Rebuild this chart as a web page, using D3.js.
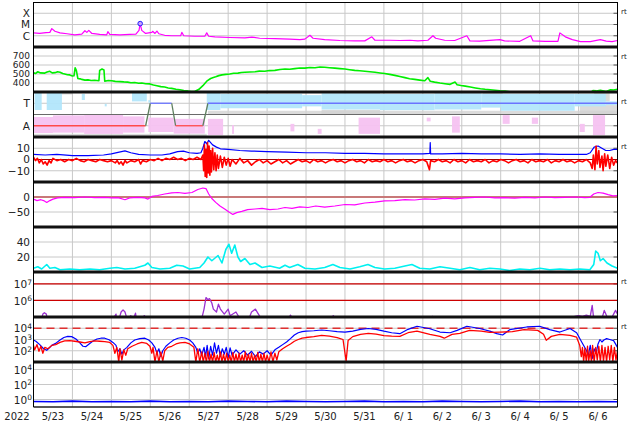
<!DOCTYPE html>
<html><head><meta charset="utf-8">
<script src="https://cdn.jsdelivr.net/npm/d3@7"></script>
<style>html,body{margin:0;padding:0;background:#fff}svg{display:block}</style>
</head><body>
<svg id="c" width="634" height="424"></svg>
<script>
// ---------------- DATA ----------------
const dayLabels = ["5/23","5/24","5/25","5/26","5/27","5/28","5/29","5/30","5/31","6/ 1","6/ 2","6/ 3","6/ 4","6/ 5","6/ 6"];
const yearLabel = "2022";

// Panel 1: X-ray flux [day, W/m2]
const xray = [[0,1.8e-6],[0.16,1.6e-6],[0.32,1.9e-6],[0.42,2.0e-6],[0.47,4.3e-6],[0.55,2.5e-6],[0.68,1.8e-6],[0.86,1.5e-6],[1.06,1.2e-6],[1.24,1.4e-6],[1.32,2.8e-6],[1.37,2.0e-6],[1.42,3.0e-6],[1.5,1.6e-6],[1.7,1.3e-6],[1.88,1.2e-6],[1.91,2.3e-6],[1.96,1.3e-6],[2.22,1.2e-6],[2.47,1.3e-6],[2.63,1.4e-6],[2.71,3e-6],[2.74,1.2e-5],[2.78,3e-6],[2.88,1.6e-6],[3.04,2.0e-6],[3.06,2.5e-6],[3.12,1.6e-6],[3.17,2.6e-6],[3.22,1.5e-6],[3.37,1.1e-6],[3.55,1.0e-6],[3.78,1.0e-6],[3.81,2.0e-6],[3.86,1.0e-6],[4.14,9e-7],[4.4,9e-7],[4.45,1.8e-6],[4.5,9e-7],[4.66,8e-7],[5.04,7e-7],[5.43,6.5e-7],[5.61,7.5e-7],[5.81,6e-7],[6.2,5.5e-7],[6.58,5e-7],[6.84,4.5e-7],[6.97,5e-7],[7.1,1.1e-6],[7.18,6e-7],[7.48,4.5e-7],[7.87,3.8e-7],[8.25,3.5e-7],[8.51,3.5e-7],[8.69,8e-7],[8.77,4e-7],[9.15,4e-7],[9.41,3.8e-7],[9.67,4e-7],[9.87,3.5e-7],[10.13,4e-7],[10.26,1e-6],[10.33,6e-7],[10.56,4e-7],[10.82,3.8e-7],[11.13,1e-6],[11.21,3.5e-7],[11.46,3.3e-7],[11.98,4.5e-7],[12.1,3.5e-7],[12.49,3.2e-7],[12.77,1e-6],[12.83,3.5e-7],[13.14,3.2e-7],[13.47,3.2e-7],[13.52,1.8e-6],[13.66,8e-7],[13.84,4.5e-7],[14.05,3e-7],[14.3,3e-7],[14.56,4.5e-7],[14.71,3.3e-7],[14.86,3e-7],[15,3.8e-7]];
const flareMarks = [[2.74,1.2e-5]];
const xrayClassTicks = [[1e-4,"X"],[1e-5,"M"],[1e-6,"C"]];

// Panel 2: solar wind speed [day, km/s]
const speed = [[0,515],[0.05,505],[0.11,525],[0.18,512],[0.29,510],[0.35,522],[0.42,530],[0.48,512],[0.55,515],[0.62,525],[0.68,520],[0.75,505],[0.8,500],[0.87,492],[0.93,490],[1.0,478],[1.04,480],[1.07,570],[1.1,540],[1.14,450],[1.2,446],[1.24,440],[1.32,432],[1.4,435],[1.48,428],[1.57,430],[1.68,425],[1.7,540],[1.76,555],[1.81,545],[1.83,420],[1.92,428],[2.01,425],[2.1,418],[2.22,415],[2.32,412],[2.42,410],[2.5,402],[2.6,405],[2.7,398],[2.78,400],[2.88,392],[2.99,390],[3.08,378],[3.17,370],[3.27,360],[3.37,355],[3.46,345],[3.55,340],[3.66,330],[3.76,325],[3.86,316],[3.96,312],[4.05,306],[4.14,305],[4.25,330],[4.35,370],[4.45,420],[4.55,450],[4.62,462],[4.68,470],[4.76,482],[4.84,490],[4.94,496],[5.04,500],[5.14,508],[5.25,510],[5.34,516],[5.43,520],[5.56,522],[5.69,525],[5.8,532],[5.94,530],[6.06,538],[6.2,540],[6.33,550],[6.46,555],[6.58,552],[6.71,560],[6.84,566],[6.97,565],[7.1,572],[7.23,570],[7.36,578],[7.48,575],[7.6,570],[7.74,565],[7.87,560],[8.0,555],[8.12,548],[8.25,540],[8.38,536],[8.51,530],[8.64,525],[8.77,520],[8.9,512],[9.02,505],[9.15,496],[9.28,485],[9.41,472],[9.54,460],[9.66,448],[9.79,440],[9.92,432],[10.05,425],[10.13,460],[10.19,420],[10.3,410],[10.44,400],[10.57,392],[10.7,385],[10.83,410],[10.88,380],[10.98,372],[11.09,365],[11.22,355],[11.35,345],[11.48,336],[11.6,330],[11.73,325],[11.86,320],[11.98,314],[12.11,310],[12.24,303],[12.37,295],[13,290],[14.29,290],[14.37,315],[14.45,312],[14.56,320],[14.71,305],[14.82,325],[14.9,322],[15,330]];
const speedTicks = [400,500,600,700];

// Panel 3: IMF sector (phi, deg) : T = 315, A = 135 ; bands [day0, day1, phiLo, phiHi]
const sectorTicks = [[315,"T"],[135,"A"]];
const phiGrey = [[0,4.45,50,70],[0.4,1.0,385,400],[4.48,15,222,255],[7.4,8.9,225,262],[11.54,12.05,365,397],[14.03,15,228,300],[14.4,14.8,330,397]];
const phiPink = [[0,0.5,77,205],[0.5,1.3,80,218],[1.3,2.3,70,228],[2.3,2.85,80,210],[2.95,3.6,85,200],[3.6,4.4,72,190],[4.48,4.87,60,190],[5.1,5.15,70,140],[6.6,6.7,90,150],[7.3,7.4,70,110],[8.35,8.9,70,200],[10.1,10.2,170,200],[10.75,10.95,80,210],[12.05,12.23,150,220],[12.8,12.96,150,200],[14.03,14.16,85,150],[14.37,14.68,60,220]];
const phiBlue = [[0.03,0.21,261,397],[0.34,0.73,261,397],[1.24,1.32,341,389],[1.83,1.88,290,310],[2.53,2.91,330,397],[2.95,3.0,320,340],[4.45,4.8,261,397],[4.8,6.9,275,390],[6.9,7.4,290,380],[7.4,8.9,265,395],[8.9,10.3,260,390],[10.3,11.5,265,395],[11.5,12.0,280,390],[12.0,13.9,255,390],[13.9,14.7,290,390],[14.7,15,300,330]];
const sectorDays = [0,2.88,3.0,3.55,3.65,4.35,4.48,15];
const sectorPhi  = [135,135,315,315,135,135,315,315];

// Panel 4: IMF Bt and Bz [day, nT]
const bt = [[0,4.5],[0.3,4],[0.6,4.5],[1.0,3.5],[1.4,3.5],[1.8,4],[2.0,5],[2.2,6.5],[2.35,7.7],[2.5,6],[2.7,4.5],[3.0,4],[3.3,4],[3.5,5],[3.7,7],[3.85,7.5],[4.0,6],[4.2,5.5],[4.3,6],[4.35,10],[4.4,16],[4.45,14],[4.5,17],[4.55,15],[4.6,13],[4.7,11],[4.8,9.5],[5.0,9],[5.3,8],[5.6,7.5],[6.0,7],[6.5,6.5],[7.0,6],[7.5,6],[8.0,5.5],[8.5,5.5],[9.0,5],[9.5,5],[10.0,5],[10.18,5.5],[10.19,15],[10.2,5],[10.5,5],[11,5.5],[11.5,5],[12,5],[12.5,4.5],[13,5],[13.5,4.5],[14,4.5],[14.2,4.5],[14.3,6],[14.4,11],[14.5,12],[14.6,10],[14.7,8],[14.8,8],[14.9,9],[15,9]];
const bz = [[0,2],[0.05,-1],[0.1,1],[0.15,-3],[0.2,0],[0.25,-4],[0.3,-2],[0.35,-5],[0.4,-1],[0.45,-3],[0.5,1],[0.6,-1],[0.7,0],[0.8,-2],[0.9,0],[1.0,-1],[1.1,1],[1.2,-1],[1.3,-2],[1.4,0],[1.5,-1],[1.6,-2],[1.7,0],[1.8,-1],[1.9,-2],[2.0,-1],[2.1,-3],[2.15,-1],[2.2,-4],[2.25,-2],[2.3,-5],[2.35,-1],[2.4,-3],[2.5,-1],[2.6,-2],[2.7,0],[2.75,-4],[2.8,-1],[2.9,-2],[3.0,0],[3.1,-1],[3.2,1],[3.3,-1],[3.4,1],[3.5,0],[3.6,2],[3.7,0],[3.8,1],[3.9,-1],[4.0,1],[4.1,0],[4.2,2],[4.3,0],[4.35,4],[4.37,-10],[4.39,13],[4.41,-15],[4.43,9],[4.45,-16],[4.47,15],[4.49,-12],[4.51,12],[4.53,-14],[4.55,8],[4.57,-11],[4.6,10],[4.63,-9],[4.66,6],[4.69,-10],[4.72,4],[4.75,-8],[4.8,3],[4.85,-7],[4.9,2],[4.95,-5],[5.0,1],[5.05,-6],[5.1,0],[5.2,-4],[5.3,1],[5.4,-3],[5.5,-1],[5.6,-5],[5.7,-2],[5.8,0],[5.9,-3],[6.0,-1],[6.1,-4],[6.2,-2],[6.3,0],[6.4,-3],[6.5,-1],[6.6,-4],[6.7,-2],[6.8,0],[6.9,-2],[7.0,-1],[7.1,-3],[7.2,0],[7.3,-2],[7.4,-1],[7.5,-3],[7.6,-1],[7.7,0],[7.8,-2],[7.9,-1],[8.0,-3],[8.1,-1],[8.2,0],[8.3,-2],[8.4,-1],[8.5,-3],[8.6,0],[8.7,-2],[8.8,-1],[8.9,-2],[9.0,0],[9.1,-2],[9.2,-1],[9.3,-3],[9.4,-1],[9.5,0],[9.6,-2],[9.7,-1],[9.8,-3],[9.9,-1],[10.0,0],[10.1,-2],[10.17,-9],[10.2,-1],[10.3,-2],[10.4,0],[10.5,-2],[10.6,-1],[10.7,-3],[10.8,0],[10.9,-2],[11.0,-1],[11.1,-3],[11.2,0],[11.3,-2],[11.4,-1],[11.5,-2],[11.6,0],[11.7,-3],[11.8,-1],[11.9,-2],[12.0,0],[12.1,-1],[12.2,-3],[12.3,-1],[12.4,0],[12.5,-2],[12.6,-1],[12.7,-3],[12.8,0],[12.9,-2],[13.0,-1],[13.1,-2],[13.2,0],[13.3,-3],[13.4,-1],[13.5,-2],[13.6,0],[13.7,-2],[13.8,-1],[13.9,-3],[14.0,-1],[14.1,-2],[14.2,0],[14.3,-3],[14.35,-8],[14.38,4],[14.42,-9],[14.45,12],[14.48,-4],[14.52,8],[14.55,-7],[14.6,3],[14.63,-10],[14.67,5],[14.7,-6],[14.75,4],[14.8,-8],[14.85,2],[14.9,-5],[14.95,-1],[15.0,-3]];
const imfTicks = [10,0,-10];

// Panel 5: Dst [day, nT]
const dst = [[0,-7],[0.09,-12],[0.19,-9],[0.26,-12],[0.34,-18],[0.42,-12],[0.5,-7],[0.62,-3],[0.8,-1],[1.06,-2],[1.32,0],[1.57,-2],[1.83,-1],[2.01,-3],[2.17,-2],[2.35,-9],[2.47,-3],[2.68,-1],[2.86,-3],[2.94,-7],[3.04,2],[3.19,5],[3.37,10],[3.55,14],[3.71,15],[3.89,12],[4.07,15],[4.22,25],[4.35,30],[4.43,28],[4.5,10],[4.58,-5],[4.68,-18],[4.79,-30],[4.91,-40],[5.02,-50],[5.12,-58],[5.22,-52],[5.35,-48],[5.5,-42],[5.69,-40],[5.87,-38],[6.07,-42],[6.28,-40],[6.46,-35],[6.64,-38],[6.84,-33],[7.05,-35],[7.25,-30],[7.48,-34],[7.74,-30],[8.0,-25],[8.25,-26],[8.51,-20],[8.77,-17],[9.02,-13],[9.28,-12],[9.54,-9],[9.79,-10],[10.05,-6],[10.31,-8],[10.56,-4],[10.82,-6],[11.08,-3],[11.34,-1],[11.59,0],[11.85,-3],[12.11,-2],[12.36,-4],[12.62,-1],[12.88,-3],[13.13,0],[13.39,-2],[13.65,-1],[13.91,0],[14.16,-2],[14.29,-1],[14.39,10],[14.5,15],[14.63,13],[14.76,8],[14.88,4],[15,5]];
const dstTicks = [0,-50];

// Panel 6: activity index [day, value]
const act = [[0,5],[0.11,7],[0.21,4],[0.34,10],[0.42,5],[0.55,6],[0.68,3],[0.93,4],[1.19,3],[1.45,4],[1.7,3],[1.96,5],[2.14,6],[2.35,4],[2.6,5],[2.86,9],[2.94,12],[3.04,6],[3.25,4],[3.5,5],[3.68,9],[3.84,8],[4.01,4],[4.27,6],[4.38,12],[4.48,20],[4.58,15],[4.74,22],[4.84,12],[4.94,30],[5.02,37],[5.09,25],[5.17,36],[5.25,20],[5.32,14],[5.43,18],[5.56,10],[5.69,12],[5.87,6],[6.07,8],[6.32,5],[6.46,9],[6.58,6],[6.79,10],[6.97,5],[7.23,4],[7.48,6],[7.69,10],[7.87,6],[8.13,4],[8.38,7],[8.59,10],[8.77,6],[9.02,4],[9.28,5],[9.54,8],[9.72,10],[9.92,5],[10.18,4],[10.44,7],[10.7,5],[10.95,3],[11.21,6],[11.46,3],[11.72,5],[11.98,4],[12.23,2],[12.49,4],[12.75,3],[13.01,5],[13.26,3],[13.52,4],[13.78,3],[14.03,4],[14.29,3],[14.39,10],[14.44,28],[14.5,25],[14.56,15],[14.63,18],[14.73,12],[14.86,8],[15,5]];
const actTicks = [20,40];

// Panel 7: high energy flux [day, value] with warning levels
const flux7 = [[0,5e4],[0.2,6e4],[0.24,1.5e5],[0.28,1.8e5],[0.33,1.5e5],[0.36,6e4],[2.0,5e4],[2.12,1.5e5],[2.14,5e4],[2.2,8e4],[2.25,2e5],[2.3,2.7e5],[2.35,2e5],[2.4,8e4],[2.5,1.2e5],[2.55,6e4],[2.62,1.7e5],[2.65,6e4],[2.85,1.2e5],[2.88,5e4],[4.3,5e4],[4.38,3e5],[4.43,1.5e6],[4.48,1.1e6],[4.52,1.3e6],[4.58,7e5],[4.62,3e5],[4.7,2e5],[4.75,6e5],[4.8,3e5],[4.9,1.5e5],[5.0,3e5],[5.05,1.2e5],[5.2,2e5],[5.3,8e4],[5.5,5e4],[5.6,2e5],[5.7,3e5],[5.8,1.2e5],[5.9,5e4],[6.5,5e4],[6.6,1.3e5],[6.7,5e4],[7.6,5e4],[7.7,1.2e5],[7.8,5e4],[10.2,5e4],[10.25,1.1e5],[10.3,5e4],[13.8,5e4],[13.9,1.1e5],[14.0,1.2e5],[14.1,1.1e5],[14.2,1.3e5],[14.3,1.1e5],[14.35,5e5],[14.38,1.2e5],[14.5,5e4],[14.6,8e4],[14.66,2.5e5],[14.72,1.2e5],[14.8,5e4],[14.9,1.5e5],[14.95,2.5e5],[15,1.5e5]];
const flux7Levels = [1e7,1e6];
const flux7Ticks = [7,6];

// Panel 8: electron flux, two channels [day, value]
const elecBlue = [[0,900],[0.06,700],[0.16,350],[0.26,150],[0.34,110],[0.42,200],[0.47,300],[0.57,450],[0.68,900],[0.78,1500],[0.88,1900],[0.98,1800],[1.09,1100],[1.19,500],[1.27,250],[1.34,230],[1.42,380],[1.52,700],[1.63,1100],[1.73,1300],[1.83,1300],[1.94,950],[2.04,550],[2.12,300],[2.16,80],[2.22,150],[2.27,50],[2.32,120],[2.4,200],[2.5,500],[2.6,900],[2.73,1200],[2.86,1300],[2.96,900],[3.04,500],[3.12,200],[3.17,60],[3.22,150],[3.27,30],[3.32,100],[3.4,250],[3.5,500],[3.6,900],[3.71,1300],[3.81,1500],[3.91,1300],[4.01,900],[4.09,500],[4.17,200],[4.22,60],[4.27,150],[4.32,40],[4.38,200],[4.42,30],[4.46,300],[4.5,20],[4.55,250],[4.6,40],[4.65,500],[4.7,60],[4.75,300],[4.8,30],[4.85,150],[4.9,50],[4.95,200],[5.0,25],[5.05,180],[5.1,40],[5.2,120],[5.3,50],[5.4,100],[5.5,40],[5.6,90],[5.7,30],[5.8,80],[5.9,50],[6.0,100],[6.1,40],[6.2,120],[6.3,200],[6.4,350],[6.5,600],[6.6,1200],[6.7,2500],[6.8,4000],[6.9,5000],[7.0,5500],[7.2,6000],[7.4,7000],[7.6,6000],[7.8,5000],[8.0,4500],[8.2,5500],[8.4,8000],[8.6,9500],[8.8,8000],[9.0,5500],[9.2,4000],[9.41,3300],[9.62,8000],[9.85,15000],[10.18,9000],[10.44,4600],[10.7,4000],[10.88,6500],[11.13,15000],[11.46,9500],[11.72,5600],[11.9,3300],[12.05,2500],[12.23,7500],[12.67,13000],[13.0,15000],[13.26,7500],[13.52,4600],[13.78,9500],[13.95,4000],[14.08,600],[14.2,110],[14.25,40],[14.3,300],[14.35,20],[14.4,150],[14.45,60],[14.5,400],[14.55,1000],[14.6,600],[14.65,900],[14.72,1200],[14.8,1000],[14.9,800],[15,200]];
const elecRed = [[0,300],[0.03,120],[0.09,350],[0.14,90],[0.19,250],[0.24,60],[0.29,200],[0.37,150],[0.47,300],[0.57,350],[0.68,550],[0.8,750],[0.93,800],[1.06,700],[1.19,600],[1.32,500],[1.45,650],[1.57,750],[1.7,700],[1.83,650],[1.96,550],[2.04,300],[2.09,60],[2.14,200],[2.19,10],[2.22,150],[2.27,15],[2.32,120],[2.37,40],[2.42,150],[2.53,250],[2.66,400],[2.78,550],[2.91,450],[2.99,250],[3.04,60],[3.07,200],[3.12,10],[3.17,100],[3.22,10],[3.27,80],[3.32,12],[3.37,100],[3.45,200],[3.55,250],[3.66,400],[3.76,500],[3.89,550],[4.01,400],[4.12,200],[4.17,10],[4.22,150],[4.27,10],[4.32,80],[4.36,10],[4.4,60],[4.44,10],[4.48,90],[4.52,10],[4.56,50],[4.6,10],[4.64,70],[4.68,10],[4.72,40],[4.76,10],[4.8,80],[4.84,10],[4.88,50],[4.92,10],[4.96,60],[5.0,10],[5.04,40],[5.08,10],[5.12,70],[5.16,10],[5.2,50],[5.24,10],[5.28,60],[5.32,10],[5.36,40],[5.4,10],[5.44,80],[5.48,10],[5.52,50],[5.56,10],[5.6,60],[5.64,10],[5.68,40],[5.72,10],[5.76,70],[5.8,10],[5.84,50],[5.88,10],[5.92,60],[5.96,10],[6.0,40],[6.05,10],[6.1,80],[6.15,10],[6.2,60],[6.25,15],[6.3,80],[6.4,150],[6.5,250],[6.6,400],[6.7,700],[6.8,1000],[6.9,1300],[7.0,1500],[7.2,1800],[7.4,2300],[7.6,2000],[7.8,1500],[7.95,1000],[8.03,12],[8.08,800],[8.2,1800],[8.4,2900],[8.6,3500],[8.8,3000],[9.0,2200],[9.2,2000],[9.41,1900],[9.62,4000],[9.85,5500],[10.18,2900],[10.44,1900],[10.55,1300],[10.75,2900],[10.95,3500],[11.2,6500],[11.5,5600],[11.72,4300],[11.98,4500],[12.3,5000],[12.6,7500],[12.95,6500],[13.1,2900],[13.17,850],[13.3,1900],[13.52,2900],[13.78,2300],[13.95,1600],[14.03,300],[14.07,30],[14.1,200],[14.13,10],[14.16,150],[14.2,10],[14.23,250],[14.26,12],[14.3,100],[14.33,10],[14.36,300],[14.4,10],[14.44,200],[14.48,15],[14.52,250],[14.56,10],[14.6,300],[14.64,12],[14.68,200],[14.72,10],[14.76,250],[14.8,15],[14.84,300],[14.88,10],[14.92,200],[14.96,15],[15,100]];
const elecLevel = 1e4;
const elecTicks = [4,3,2];

// Panel 9: low flux channel [day, value]
const flux9 = [[0,0.55],[0.5,0.5],[1,0.6],[1.5,0.5],[2,0.55],[2.5,0.5],[3,0.6],[3.5,0.5],[4,0.55],[4.5,0.5],[5,0.6],[5.5,0.55],[6,0.5],[6.5,0.6],[7,0.55],[7.5,0.5],[8,0.55],[8.5,0.6],[9,0.5],[9.5,0.55],[10,0.5],[10.5,0.6],[11,0.55],[11.5,0.5],[12,0.55],[12.5,0.6],[13,0.5],[13.5,0.55],[14,0.5],[14.5,0.55],[15,0.5]];
const flux9Ticks = [4,2,0];

// ---------------- DRAW ----------------
const svg = d3.select("#c");
const FONT = "DejaVu Sans";
const L = 33.5, R = 617.5, TOP = 2, PH = 45;
const x = d3.scaleLinear().domain([0, 15]).range([L, R]);
const pTop = i => TOP + i * PH, pBot = i => TOP + (i + 1) * PH;

const defs = svg.append("defs");
for (let i = 0; i < 9; i++) {
  defs.append("clipPath").attr("id", "cp" + i).append("rect")
    .attr("x", L).attr("y", pTop(i)).attr("width", R - L).attr("height", PH);
}

const ys = [
  d3.scaleLog().domain([1e-7, 1e-3]).range([pBot(0), pTop(0)]),
  d3.scaleLinear().domain([300, 800]).range([pBot(1), pTop(1)]),
  d3.scaleLinear().domain([45, 405]).range([pBot(2), pTop(2)]),
  d3.scaleLinear().domain([-20, 20]).range([pBot(3), pTop(3)]),
  d3.scaleLinear().domain([-100, 50]).range([pBot(4), pTop(4)]),
  d3.scaleLinear().domain([0, 60]).range([pBot(5), pTop(5)]),
  d3.scaleLog().domain([1e5, Math.pow(10, 7.72)]).range([pBot(6), pTop(6)]),
  d3.scaleLog().domain([10, 1e5]).range([pBot(7), pTop(7)]),
  d3.scaleLog().domain([0.1, 1e5]).range([pBot(8), pTop(8)])
];

const gridC = "#c8c8c8";
const grid = svg.append("g");
grid.selectAll("line.v").data(d3.range(1, 15)).join("line")
  .attr("x1", d => x(d)).attr("x2", d => x(d)).attr("y1", TOP).attr("y2", pBot(8))
  .attr("stroke", gridC).attr("stroke-width", 1);

const hgrid = [
  xrayClassTicks.map(d => d[0]),
  speedTicks,
  [315, 135],
  imfTicks,
  dstTicks,
  actTicks,
  flux7Ticks.map(e => Math.pow(10, e)),
  elecTicks.map(e => Math.pow(10, e)),
  flux9Ticks.map(e => Math.pow(10, e))
];
hgrid.forEach((vals, i) => {
  grid.selectAll(null).data(vals).join("line")
    .attr("x1", L).attr("x2", R).attr("y1", d => ys[i](d)).attr("y2", d => ys[i](d))
    .attr("stroke", gridC).attr("stroke-width", 1);
  grid.selectAll(null).data(vals).join("line")
    .attr("x1", R - 4).attr("x2", R).attr("y1", d => ys[i](d)).attr("y2", d => ys[i](d))
    .attr("stroke", "#555").attr("stroke-width", 1);
});

const line = (i, data) => d3.line().x(d => x(d[0])).y(d => ys[i](d[1]))(data);
const plot = (i, data, color, w) => svg.append("path").attr("d", line(i, data))
  .attr("fill", "none").attr("stroke", color).attr("stroke-width", w)
  .attr("stroke-linejoin", "round").attr("clip-path", `url(#cp${i})`);

// Panel 1
plot(0, xray, "#ff00ff", 1.2);
svg.selectAll(null).data(flareMarks).join("circle")
  .attr("cx", d => x(d[0])).attr("cy", d => ys[0](d[1])).attr("r", 2.3)
  .attr("fill", "#c8a0ff").attr("stroke", "#2020ff").attr("stroke-width", 1);

// Panel 2
plot(1, speed, "#00ee00", 1.6);

// Panel 3
const bandG = svg.append("g").attr("clip-path", "url(#cp2)");
const bands = (arr, color, op) => {
  bandG.selectAll(null).data(arr).join("rect")
    .attr("x", d => x(d[0])).attr("width", d => Math.max(1.5, x(d[1]) - x(d[0])))
    .attr("y", d => ys[2](d[3])).attr("height", d => ys[2](d[2]) - ys[2](d[3]))
    .attr("fill", color).attr("opacity", op);
};
bands(phiGrey, "#d2d2d2", 0.8);
bands(phiPink, "#f6c2f1", 0.95);
bands(phiBlue, "#b2e6fb", 0.95);
svg.append("line").attr("x1", L).attr("x2", R).attr("y1", ys[2](225)).attr("y2", ys[2](225))
  .attr("stroke", "#6a6a6a").attr("stroke-width", 1.2);
for (let k = 0; k < sectorDays.length - 1; k++) {
  const a = sectorPhi[k], b = sectorPhi[k + 1];
  const col = (a === 135 && b === 135) ? "#ff4a4a" : (a === 315 && b === 315) ? "#6a74ff" : "#5f7f5f";
  svg.append("line").attr("x1", x(sectorDays[k])).attr("x2", x(sectorDays[k + 1]))
    .attr("y1", ys[2](a)).attr("y2", ys[2](b)).attr("stroke", col).attr("stroke-width", 1.3);
}

// Panel 4
svg.append("line").attr("x1", L).attr("x2", R).attr("y1", ys[3](0)).attr("y2", ys[3](0))
  .attr("stroke", "#a00000").attr("stroke-width", 1.2);
plot(3, bt, "#0000ff", 1.2);
plot(3, bz, "#ff0000", 1.6);

// Panel 5
svg.append("line").attr("x1", L).attr("x2", R).attr("y1", ys[4](0)).attr("y2", ys[4](0))
  .attr("stroke", "#c87878").attr("stroke-width", 2.2);
plot(4, dst, "#ff00ff", 1.2);

// Panel 6
plot(5, act, "#00f0f0", 1.6);

// Panel 7
svg.selectAll(null).data(flux7Levels).join("line")
  .attr("x1", L).attr("x2", R).attr("y1", d => ys[6](d)).attr("y2", d => ys[6](d))
  .attr("stroke", "#cc0000").attr("stroke-width", 1.2);
plot(6, flux7, "#9a30d0", 1.3);

// Panel 8
svg.append("line").attr("x1", L).attr("x2", R).attr("y1", ys[7](elecLevel)).attr("y2", ys[7](elecLevel))
  .attr("stroke", "#e03030").attr("stroke-width", 1.4).attr("stroke-dasharray", "8,5");
plot(7, elecBlue, "#0000ff", 1.2);
plot(7, elecRed, "#ff0000", 1.3);

// Panel 9
plot(8, flux9, "#0000ff", 1.6);

// Frame
const frame = svg.append("g");
frame.append("line").attr("x1", L).attr("x2", R).attr("y1", TOP + 0.5).attr("y2", TOP + 0.5).attr("stroke", "#000").attr("stroke-width", 1);
d3.range(1, 9).forEach(i => {
  frame.append("line").attr("x1", L).attr("x2", R).attr("y1", pTop(i)).attr("y2", pTop(i))
    .attr("stroke", "#111").attr("stroke-width", 3);
});
frame.append("line").attr("x1", L).attr("x2", R).attr("y1", pBot(8)).attr("y2", pBot(8)).attr("stroke", "#222").attr("stroke-width", 1.5);
frame.append("line").attr("x1", L).attr("x2", L).attr("y1", TOP).attr("y2", pBot(8)).attr("stroke", "#000").attr("stroke-width", 1);
frame.append("line").attr("x1", R).attr("x2", R).attr("y1", TOP).attr("y2", pBot(8)).attr("stroke", "#000").attr("stroke-width", 1);

// Labels
const txt = svg.append("g").attr("font-family", FONT).attr("fill", "#222");
const plainLab = (i, vals, fmt, fs) => txt.selectAll(null).data(vals).join("text")
  .attr("x", 30).attr("y", d => ys[i](Array.isArray(d) ? d[0] : d)).attr("dy", "0.36em")
  .attr("text-anchor", "end").attr("font-size", fs || 10.5).text(fmt);
plainLab(0, xrayClassTicks, d => d[1]);
plainLab(1, speedTicks, d => d, 9);
plainLab(2, sectorTicks, d => d[1]);
plainLab(3, imfTicks, d => d < 0 ? "\u2212" + (-d) : d);
plainLab(4, dstTicks, d => d < 0 ? "\u2212" + (-d) : d);
plainLab(5, actTicks, d => d);
const powLab = (i, exps) => {
  exps.forEach(e => {
    const t = txt.append("text").attr("x", 32).attr("y", ys[i](Math.pow(10, e))).attr("dy", "0.4em")
      .attr("text-anchor", "end").attr("font-size", 10.5);
    t.append("tspan").text("10");
    t.append("tspan").attr("dy", "-0.45em").attr("font-size", 7.5).text(e);
  });
};
powLab(6, flux7Ticks);
powLab(7, elecTicks);
powLab(8, flux9Ticks);

txt.selectAll(null).data(dayLabels).join("text")
  .attr("x", (d, k) => x(k + 0.5)).attr("y", 420).attr("text-anchor", "middle")
  .attr("font-size", 10).text(d => d);
txt.append("text").attr("x", 17).attr("y", 420).attr("text-anchor", "middle").attr("font-size", 10).text(yearLabel);

const rtPanels = [0, 1, 2, 3, 6, 7];
txt.selectAll(null).data(rtPanels).join("text")
  .attr("x", 621).attr("y", i => pTop(i) + 12).attr("font-size", 7).text("rt");
</script>
</body></html>
